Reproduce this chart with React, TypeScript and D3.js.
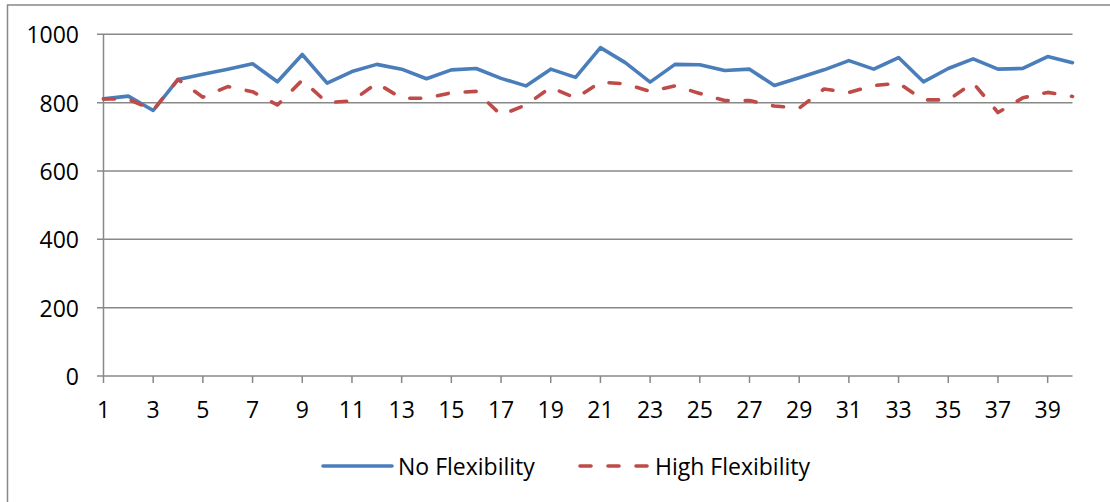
import React from "react";
import * as d3 from "d3";

const categories: number[] = Array.from({ length: 40 }, (_, i) => i + 1);

const noFlexibility: number[] = [
  811, 819, 777, 868, 883, 898, 914, 861, 941, 857,
  891, 912, 898, 870, 896, 900, 871, 849, 898, 874,
  961, 917, 860, 912, 911, 894, 898, 850, 873, 896,
  923, 898, 932, 861, 900, 928, 898, 900, 935, 917,
];

const highFlexibility: number[] = [
  811, 810, 778, 868, 816, 847, 832, 793, 866, 800,
  805, 857, 813, 813, 829, 833, 764, 793, 845, 813,
  860, 855, 833, 849, 827, 806, 806, 790, 784, 840,
  830, 850, 857, 808, 808, 858, 771, 814, 830, 818,
];

const yTicks: number[] = [0, 200, 400, 600, 800, 1000];
const xTickLabels: number[] = categories.filter((c) => c % 2 === 1);

const seriesNames = ["No Flexibility", "High Flexibility"];
const BLUE = "#4A7EBB";
const RED = "#BE4B48";
const GRID = "#888888";
const FONT = "'Open Sans', sans-serif";

export default function App() {
  const W = 1110;
  const H = 502;
  const x = d3.scalePoint<number>().domain(categories).range([103.5, 1072.5]);
  const y = d3.scaleLinear().domain([0, 1000]).range([376, 34.3]);

  const line = d3
    .line<number>()
    .x((_, i) => x(categories[i]) as number)
    .y((d) => y(d));

  const x0 = x(categories[0]) as number;
  const x1 = x(categories[categories.length - 1]) as number;

  return (
    <svg
      width={W}
      height={H}
      style={{ position: "absolute", left: 0, top: 0, display: "block", background: "#fff" }}
    >
      <rect x={0} y={0} width={W} height={H} fill="#fff" />
      {/* chart border (cropped at right/bottom) */}
      <rect x={7.5} y={5} width={W + 20} height={H + 20} fill="none" stroke={GRID} strokeWidth={1.5} />

      {/* gridlines */}
      {yTicks.map((t) => (
        <g key={"g" + t}>
          <line x1={97} x2={x1} y1={y(t)} y2={y(t)} stroke={GRID} strokeWidth={1.5} />
          <text
            x={79}
            y={y(t)}
            textAnchor="end"
            dominantBaseline="central"
            fontFamily={FONT}
            fontSize={23}
            fill="#000"
          >
            {t}
          </text>
        </g>
      ))}

      {/* y axis */}
      <line x1={x0} x2={x0} y1={y(1000)} y2={y(0)} stroke={GRID} strokeWidth={1.5} />

      {/* x ticks and labels */}
      {xTickLabels.map((c) => (
        <g key={"x" + c}>
          <line x1={x(c)} x2={x(c)} y1={y(0)} y2={y(0) + 7} stroke={GRID} strokeWidth={1.5} />
          <text
            x={x(c)}
            y={418}
            textAnchor="middle"
            fontFamily={FONT}
            fontSize={23}
            fill="#000"
          >
            {c}
          </text>
        </g>
      ))}

      {/* series */}
      <path
        d={line(noFlexibility) || ""}
        fill="none"
        stroke={BLUE}
        strokeWidth={3.6}
        strokeLinejoin="round"
        strokeLinecap="round"
      />
      <path
        d={line(highFlexibility) || ""}
        fill="none"
        stroke={RED}
        strokeWidth={3.6}
        strokeLinejoin="round"
        strokeLinecap="round"
        strokeDasharray="11 17"
      />

      {/* legend */}
      <line x1={323} x2={392} y1={466} y2={466} stroke={BLUE} strokeWidth={3.6} strokeLinecap="round" />
      <text x={398} y={466} dominantBaseline="central" fontFamily={FONT} fontSize={23} fill="#000">
        {seriesNames[0]}
      </text>
      <line
        x1={580}
        x2={648}
        y1={466}
        y2={466}
        stroke={RED}
        strokeWidth={3.6}
        strokeLinecap="round"
        strokeDasharray="11 17"
      />
      <text x={655} y={466} dominantBaseline="central" fontFamily={FONT} fontSize={23} fill="#000">
        {seriesNames[1]}
      </text>
    </svg>
  );
}
